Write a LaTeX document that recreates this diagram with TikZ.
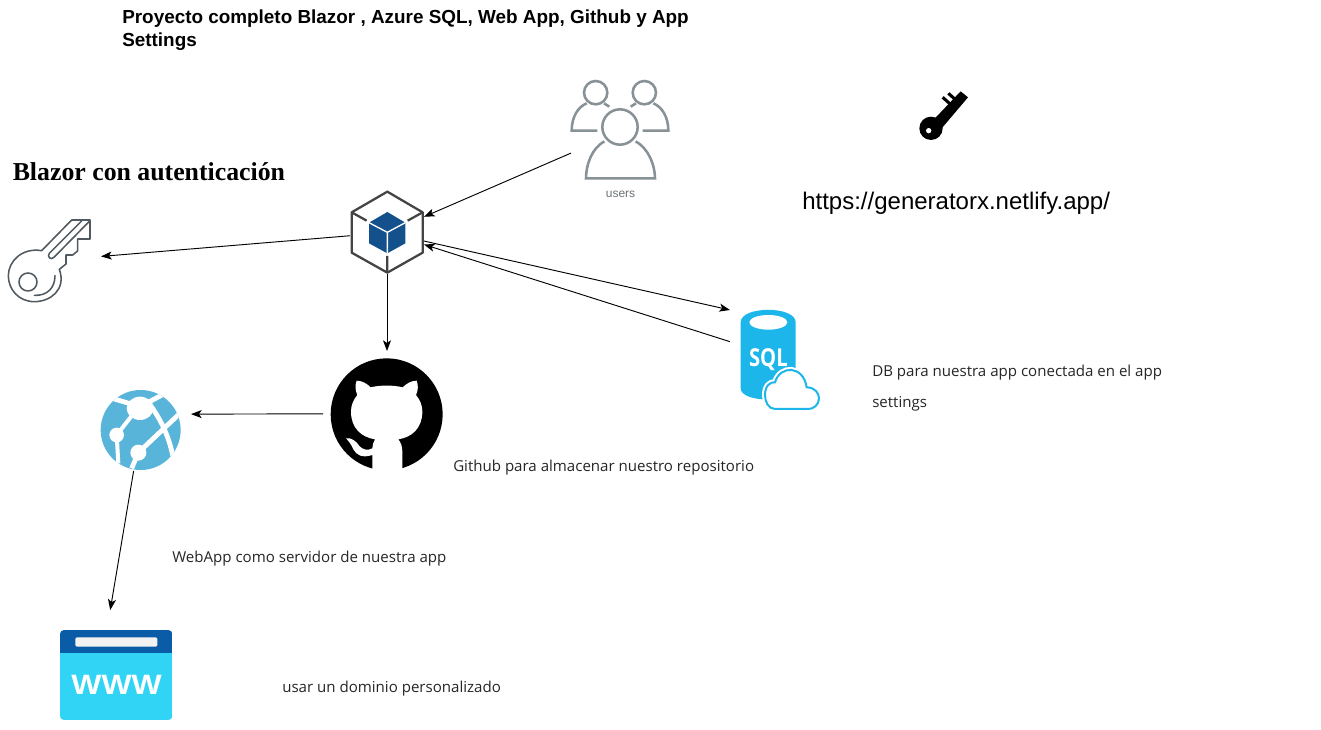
\documentclass[tikz,border=0pt]{standalone}
\usepackage{fontspec}
\setmainfont{Liberation Sans}
\newfontfamily\serifb{Liberation Serif}[Scale=1]
\newfontfamily\bodyf{Open Sans}
\usetikzlibrary{arrows.meta}
\definecolor{hexgray}{HTML}{444444}
\definecolor{cubeblue}{HTML}{14508C}
\definecolor{usergray}{HTML}{879196}
\definecolor{keygray}{HTML}{50595F}
\definecolor{sqlblue}{HTML}{1CB6EA}
\definecolor{webblue}{HTML}{59B4D9}
\definecolor{wwwdark}{HTML}{0A5CA6}
\definecolor{wwwlight}{HTML}{32D4F5}
\tikzset{
  conn/.style={-{Stealth[length=8pt,width=6pt,inset=2pt]},black,line width=.7pt},
  body/.style={anchor=base west,inner sep=0pt,font=\bodyf\fontsize{11.3}{13}\selectfont,text=black!85},
  zoomed/.style={x=.25pt,y=-.25pt},
}
\begin{document}
\begin{tikzpicture}[x=.75pt,y=-.75pt]
\useasboundingbox (0,0) rectangle (1321,730);
\fill[white] (0,0) rectangle (1321,730);
% named boxes (invisible)
\newcommand{\boxnode}[5]{\node[inner sep=0pt,outer sep=0pt,minimum width=#4*.75pt,minimum height=#5*.75pt] (#1) at (#2,#3) {};}
\boxnode{users}{620.5}{130}{99}{100}
\boxnode{hexa}{387}{232.5}{74}{83}
\boxnode{skey}{54.5}{260.5}{93}{83}
\boxnode{git}{387}{410.5}{128}{119}
\boxnode{sql}{775.5}{361}{91}{102}
\boxnode{web}{146}{430.5}{90}{81}
\boxnode{www}{116}{665}{112}{110}

% grey key
\begin{scope}[shift={(0,190)},zoomed,draw=keygray,line width=1.15pt,line join=round,line cap=round]
\draw (125,182) -- (215,90) -- (270,90) -- (270,147) -- (233,147) -- (233,183) -- (218,195) -- (198,195) -- (198,222) -- (178,238)
   .. controls (200,300) and (150,335) .. (103,335) .. controls (55,335) and (25,297) .. (25,257) .. controls (25,215) and (65,172) .. (125,182) -- cycle;
\draw (245,93) -- (148,190) .. controls (140,200) and (152,212) .. (162,202) -- (268,94);
\draw (84,276) circle[radius=27];
\draw (103,316) .. controls (140,318) and (165,295) .. (165,257);
\end{scope}

% hexagon
\begin{scope}[shift={(330,180)},zoomed]
\draw[hexgray,line width=1.7pt,line join=round] (172,35) -- (278,97) -- (278,218) -- (172,278) -- (65,218) -- (65,97) -- cycle;
\draw[hexgray,line width=1.7pt] (65,97) -- (110,122) (278,97) -- (233,122) (172,278) -- (172,228);
\fill[cubeblue] (172,96) -- (226,128) -- (226,190) -- (172,220) -- (117,190) -- (117,128) -- cycle;
\draw[white,line width=1pt] (117,128) -- (172,157) -- (226,128) (172,157) -- (172,220);
\end{scope}

% users
\begin{scope}[shift={(560,70)},zoomed,draw=usergray,line width=1.9pt]
\draw (107,68) circle[radius=35];
\draw (253,68) circle[radius=35];
\draw (180,171) circle[radius=53];
\draw (112,182) -- (35,182) .. controls (35,140) and (55,110) .. (80,100);
\draw (132,100) -- (148,110);
\draw (248,182) -- (325,182) .. controls (325,140) and (305,110) .. (280,100);
\draw (228,100) -- (212,110);
\draw (133,214) .. controls (95,235) and (78,285) .. (78,325) -- (285,325) .. controls (285,285) and (265,235) .. (227,214);
\end{scope}
\node[inner sep=0pt,text=usergray!80!black,font=\fontsize{9}{11}\selectfont] (userslabel) at (620.5,194.5) {users};

% black key
\begin{scope}[shift={(900,80)},zoomed]
\fill[black] (100,120) -- (182,34) -- (204,52) -- (125,145) -- cycle;
\fill[black] (93,145) circle[radius=35];
\draw[black,line width=2.3pt] (128,52) -- (157,78) (145,40) -- (172,64);
\fill[white] (86,152) circle[radius=8];
\end{scope}

% SQL
\begin{scope}[shift={(725,300)},zoomed]
\fill[sqlblue] (47,67) .. controls (47,17) and (212,17) .. (212,67) -- (212,265) .. controls (212,310) and (47,310) .. (47,265) -- cycle;
\fill[white] (130,67) ellipse[x radius=57,y radius=22];
\node[text=white,inner sep=0pt] (sqltext) at (130,178) {\scalebox{.82}[1]{\bodyf\bfseries\fontsize{18.5}{19}\selectfont SQL}};
\draw[white,line width=4.5pt,fill=white] (120,285) .. controls (120,258) and (135,245) .. (150,247) .. controls (165,195) and (235,195) .. (245,262) .. controls (270,262) and (282,280) .. (282,295) .. controls (282,315) and (265,327) .. (250,327) -- (150,327) .. controls (130,327) and (120,305) .. (120,285) -- cycle;
\draw[sqlblue,line width=1.5pt,fill=white] (120,285) .. controls (120,258) and (135,245) .. (150,247) .. controls (165,195) and (235,195) .. (245,262) .. controls (270,262) and (282,280) .. (282,295) .. controls (282,315) and (265,327) .. (250,327) -- (150,327) .. controls (130,327) and (120,305) .. (120,285) -- cycle;
\end{scope}

% GitHub
\begin{scope}[shift={(320,350)},zoomed]
\fill[black] (200,193) circle[radius=168];
\fill[white] (157,364) -- (157,315) .. controls (125,325) and (110,315) .. (100,298) .. controls (95,285) and (85,272) .. (78,265)
  .. controls (95,262) and (110,275) .. (118,288) .. controls (128,300) and (145,302) .. (157,295) .. controls (158,285) and (160,275) .. (165,268)
  .. controls (125,262) and (93,235) .. (93,185) .. controls (93,165) and (100,150) .. (112,135) .. controls (105,120) and (105,105) .. (110,92)
  .. controls (125,92) and (140,100) .. (152,112) .. controls (180,105) and (220,105) .. (248,112) .. controls (260,100) and (275,92) .. (290,92)
  .. controls (295,105) and (295,120) .. (288,135) .. controls (300,150) and (307,165) .. (307,185) .. controls (307,235) and (275,262) .. (235,268)
  .. controls (243,278) and (247,290) .. (247,305) -- (247,364) -- cycle;
\end{scope}

% Web app globe
\begin{scope}[shift={(90,380)},zoomed]
\fill[webblue] (152,150) circle[radius=120];
\begin{scope}
\clip (152,150) circle[radius=120];
\draw[white,line width=3.6pt] (50,50) -- (150,80) -- (235,35);
\draw[white,line width=3.6pt] (170,60) .. controls (215,120) and (245,180) .. (255,270);
\draw[white,line width=3.6pt] (275,95) -- (145,218) -- (125,265);
\draw[white,line width=3pt] (135,95) -- (80,165) -- (85,250);
\end{scope}
\fill[white] (150,85) ellipse[x radius=40,y radius=35];
\fill[white] (80,165) circle[radius=22];
\fill[white] (145,218) circle[radius=24];
\end{scope}

% www
\begin{scope}[shift={(50,620)},zoomed]
\begin{scope}
\clip[rounded corners=3pt] (30,30) rectangle (367,300);
\fill[wwwlight] (30,100) rectangle (367,300);
\fill[wwwdark] (30,30) rectangle (367,100);
\end{scope}
\fill[white!95!black,rounded corners=1pt] (76,52) rectangle (322,80);
\node[text=white,inner sep=0pt] (wwwtext) at (200,195) {\scalebox{1.14}[1]{\bfseries\fontsize{21}{21}\selectfont WWW}};
\end{scope}

% connectors
\draw[conn] (users.205) -- (hexa.23);
\draw[conn] (hexa.185.5) -- (skey.5.5);
\draw[conn] (hexa.south) -- (git.north);
\draw[conn] (hexa.-13) -- (sql.north west);
\draw[conn] (sql.157.3) -- (hexa.-18.9);
\draw[conn] (git.183.13) -- (web.20.14);
\draw[conn] (web.-107.8) -- (www.96.2);

% texts
\node[anchor=base west,inner sep=0pt,font=\bfseries\fontsize{14.17}{17}\selectfont] (title1) at (122,24) {Proyecto completo Blazor , Azure SQL, Web App, Github y App};
\node[anchor=base west,inner sep=0pt,font=\bfseries\fontsize{14.17}{17}\selectfont] (title2) at (122,47) {Settings};
\node[anchor=base west,inner sep=0pt,font=\serifb\bfseries\fontsize{19.35}{20}\selectfont] (blazor) at (12.5,181) {Blazor con autenticación};
\node[anchor=base west,inner sep=0pt,font=\fontsize{18}{20}\selectfont] (url) at (802,210) {https://generatorx.netlify.app/};
\node[body] (dbone) at (872,377) {DB para nuestra app conectada en el app};
\node[body] (dbtwo) at (872,408) {settings};
\node[body] (gitlabel) at (453,472) {Github para almacenar nuestro repositorio};
\node[body] (weblabel) at (172,562) {WebApp como servidor de nuestra app};
\node[body] (wwwlabel) at (282,692) {usar un dominio personalizado};
\end{tikzpicture}
\end{document}
